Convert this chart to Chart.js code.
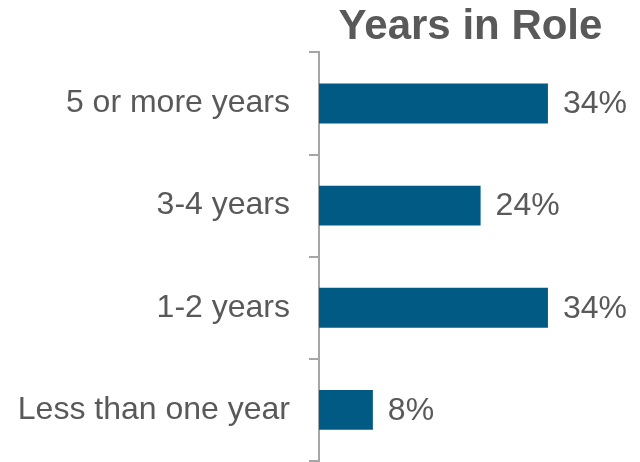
<!DOCTYPE html>
<html>
<head>
<meta charset="utf-8">
<script src="https://cdn.jsdelivr.net/npm/chart.js@4"></script>
<style>
  html, body { margin: 0; padding: 0; background: #fff; overflow: hidden; }
  canvas { display: block; }
</style>
</head>
<body>
<canvas id="role-chart" width="640" height="462"></canvas>
<script>
const categories = ['5 or more years', '3-4 years', '1-2 years', 'Less than one year'];
const shares = [34, 24, 34, 8];
const titleText = 'Years in Role';

const FONT = '"Liberation Sans", Arial, sans-serif';
const TEXT = '#595959';

// percent labels just past the end of each bar
const valueLabels = {
  id: 'valueLabels',
  afterDatasetsDraw(chart) {
    const { ctx } = chart;
    const meta = chart.getDatasetMeta(0);
    ctx.save();
    ctx.font = `32px ${FONT}`;
    ctx.fillStyle = TEXT;
    ctx.textAlign = 'left';
    ctx.textBaseline = 'middle';
    meta.data.forEach((bar, i) => {
      ctx.fillText(`${shares[i]}%`, bar.x + 15, bar.y + 1);
    });
    ctx.restore();
  }
};

new Chart(document.getElementById('role-chart'), {
  type: 'bar',
  data: {
    labels: categories,
    datasets: [{
      data: shares,
      backgroundColor: '#005a84',
      categoryPercentage: 1,
      barPercentage: 0.39,
    }]
  },
  options: {
    indexAxis: 'y',
    responsive: false,
    animation: false,
    layout: { padding: { top: 2, right: 18, bottom: 1, left: 0 } },
    scales: {
      x: { display: false, min: 0, max: 45 },
      y: {
        // fixed label column; big label text shouldn't pad the plot
        afterFit: (scale) => {
          scale.width = 319;
          scale.paddingTop = 0;
          scale.paddingBottom = 0;
        },
        grid: {
          drawOnChartArea: false,
          drawTicks: true,
          tickLength: 10,
          lineWidth: 2,
          color: '#a6a6a6',
        },
        border: { display: true, color: '#a6a6a6', width: 2 },
        ticks: {
          padding: 19,
          color: TEXT,
          font: { family: FONT, size: 32 },
        }
      }
    },
    plugins: {
      legend: { display: false },
      tooltip: { enabled: false },
      title: {
        display: true,
        text: titleText,
        fullSize: false,
        color: TEXT,
        font: { family: FONT, size: 42, weight: 'bold', lineHeight: 1.2 },
        padding: { top: 0, bottom: 0 },
      }
    }
  },
  plugins: [valueLabels]
});
</script>
</body>
</html>
